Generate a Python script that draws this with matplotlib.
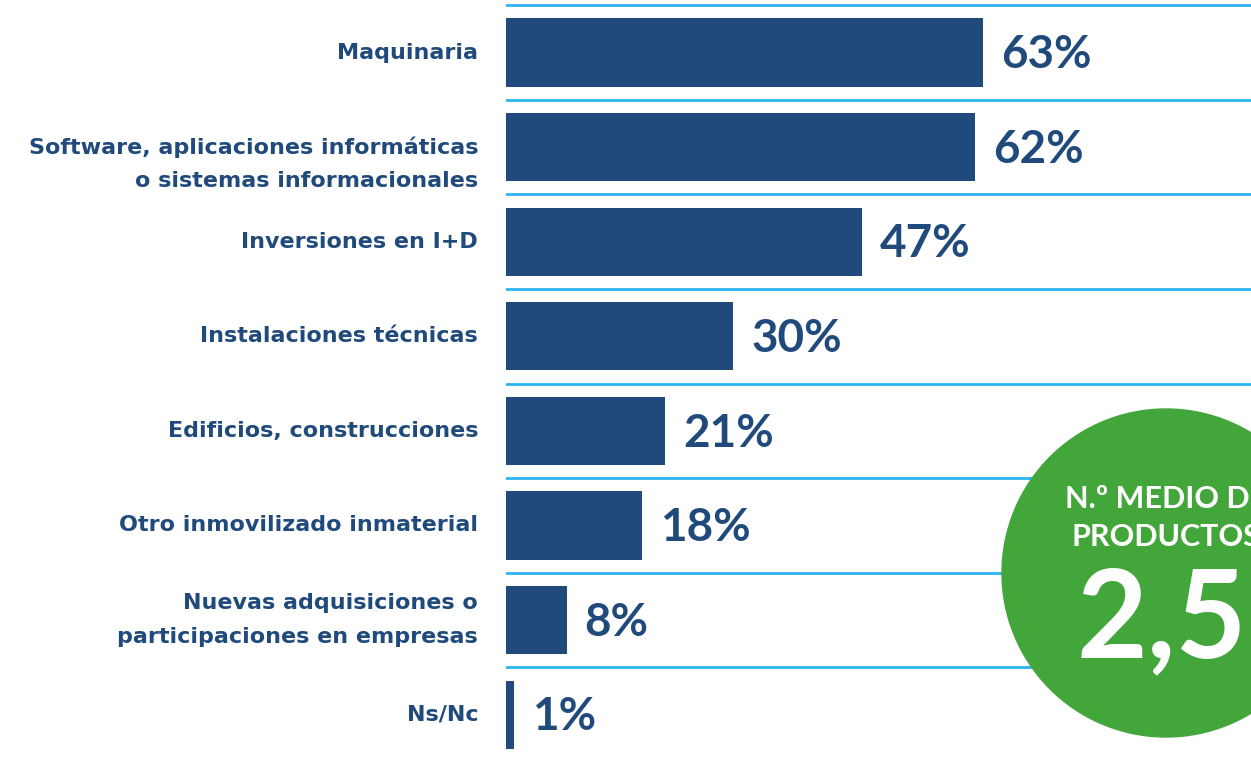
import matplotlib.pyplot as plt
from matplotlib.patches import Circle

# data
categories = ['Maquinaria',
              'Software, aplicaciones informáticas\no sistemas informacionales',
              'Inversiones en I+D',
              'Instalaciones técnicas',
              'Edificios, construcciones',
              'Otro inmovilizado inmaterial',
              'Nuevas adquisiciones o\nparticipaciones en empresas',
              'Ns/Nc']
values = [63, 62, 47, 30, 21, 18, 8, 1]
badge_title = 'N.º MEDIO DE\nPRODUCTOS'
badge_value = '2,5'

navy = '#214a7c'
green = '#43a63a'
lineblue = '#2bb5f2'

plt.rcParams['font.family'] = ['Lato', 'DejaVu Sans']

W, H = 1251, 758
fig = plt.figure(figsize=(W / 100, H / 100), dpi=100)

# bar axes, x from 506px to right edge
ax = fig.add_axes([506 / W, 0, 1 - 506 / W, 1])
n = len(values)
ypos = list(range(n))
ax.barh(ypos, values, height=0.72, color=navy, zorder=2)
ax.set_xlim(0, 745 / 7.57)
ax.set_ylim(n - 0.542, -0.555)

for i in range(n):
    ax.axhline(i - 0.5, color=lineblue, lw=2, zorder=1)

# the software label sits a bit low in the original
label_dy = [0, -12, 0, 0, 0, 0, 0, 0]

for i, v in enumerate(values):
    ax.annotate(f'{v}%', (v, i), xytext=(13, -2), textcoords='offset points',
                ha='left', va='center', fontsize=33, fontweight='bold', color=navy)
    ax.annotate(categories[i], (0, i), xytext=(-20, label_dy[i]), textcoords='offset points',
                ha='right', va='center', fontsize=16, fontweight='bold', color=navy,
                family='DejaVu Sans', linespacing=1.85, annotation_clip=False)

ax.axis('off')

# overlay for the green badge, in pixel units
ov = fig.add_axes([0, 0, 1, 1])
ov.set_xlim(0, W)
ov.set_ylim(H, 0)
ov.axis('off')
ov.patch.set_alpha(0)
ov.add_patch(Circle((1166, 573), 164, color=green, zorder=3))
ov.text(1166, 518, badge_title, ha='center', va='center', color='white',
        fontsize=22, fontweight='bold', linespacing=1.4, zorder=4)
ov.text(1162, 622, badge_value, ha='center', va='center', color='white',
        fontsize=88, fontweight='bold', zorder=4)

fig.savefig('out.png', dpi=100)
